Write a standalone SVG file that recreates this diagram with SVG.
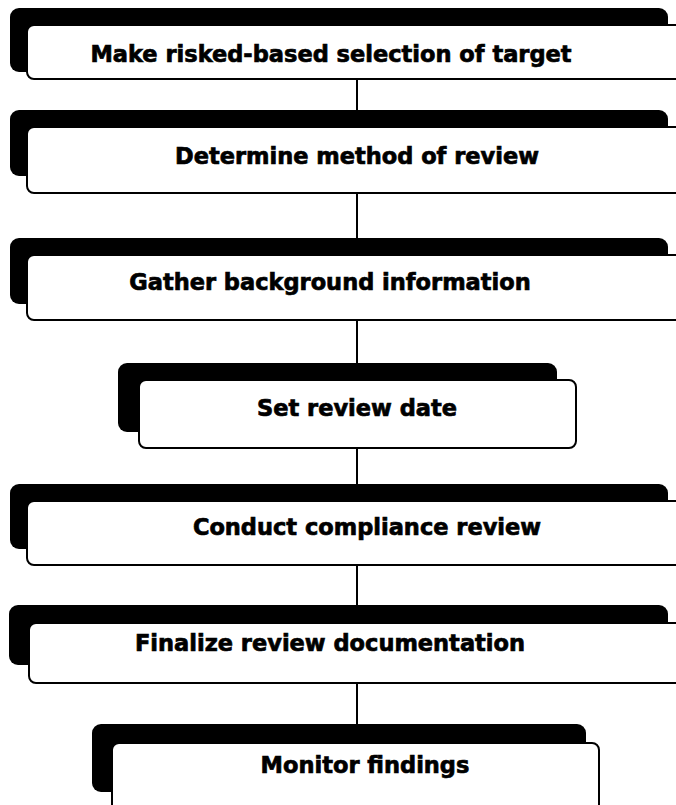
<svg xmlns="http://www.w3.org/2000/svg" width="676" height="805" viewBox="0 0 676 805">
<style>
.sh{fill:#000}
.bx{fill:#fff;stroke:#000;stroke-width:2}
.t{font-family:"DejaVu Sans","Verdana",sans-serif;font-weight:bold;font-size:22.5px;fill:#000;stroke:#000;stroke-width:0.7;text-anchor:middle}
.c{stroke:#000;stroke-width:2;fill:none}
</style>
<rect width="676" height="805" fill="#fff"/>
<g id="connectors">
<line class="c" x1="357" y1="79" x2="357" y2="110"/>
<line class="c" x1="357" y1="193" x2="357" y2="238"/>
<line class="c" x1="357" y1="320" x2="357" y2="363"/>
<line class="c" x1="357" y1="448" x2="357" y2="484"/>
<line class="c" x1="357" y1="565" x2="357" y2="605"/>
<line class="c" x1="357" y1="683" x2="357" y2="724"/>
</g>
<g id="n1">
<rect class="sh" x="10" y="8" width="658" height="64" rx="9"/>
<rect class="bx" x="27" y="25" width="670" height="54" rx="7"/>
<text class="t" x="331" y="62">Make risked-based selection of target</text>
</g>
<g id="n2">
<rect class="sh" x="10" y="110" width="658" height="66" rx="9"/>
<rect class="bx" x="27" y="127" width="670" height="66" rx="7"/>
<text class="t" x="357" y="164">Determine method of review</text>
</g>
<g id="n3">
<rect class="sh" x="10" y="238" width="658" height="66" rx="9"/>
<rect class="bx" x="27" y="255" width="670" height="65" rx="7"/>
<text class="t" x="330" y="290">Gather background information</text>
</g>
<g id="n4">
<rect class="sh" x="118" y="363" width="439" height="69" rx="9"/>
<rect class="bx" x="139" y="380" width="437" height="68" rx="7"/>
<text class="t" x="357" y="416">Set review date</text>
</g>
<g id="n5">
<rect class="sh" x="10" y="484" width="658" height="65" rx="9"/>
<rect class="bx" x="27" y="501" width="670" height="64" rx="7"/>
<text class="t" x="367" y="535">Conduct compliance review</text>
</g>
<g id="n6">
<rect class="sh" x="9" y="605" width="659" height="60" rx="9"/>
<rect class="bx" x="29" y="623" width="670" height="60" rx="7"/>
<text class="t" x="330" y="651">Finalize review documentation</text>
</g>
<g id="n7">
<rect class="sh" x="92" y="724" width="494" height="68" rx="9"/>
<rect class="bx" x="112" y="743" width="487" height="80" rx="7"/>
<text class="t" x="365" y="773">Monitor findings</text>
</g>
</svg>
